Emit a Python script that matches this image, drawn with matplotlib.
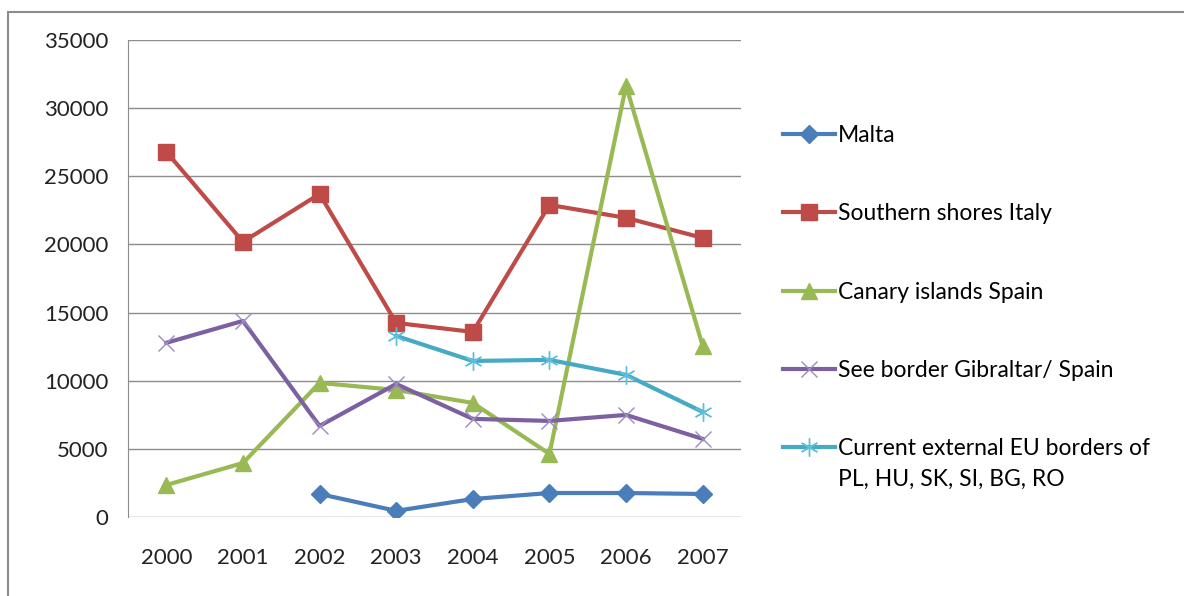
import numpy as np
import matplotlib
matplotlib.use("Agg")
import matplotlib.pyplot as plt
from matplotlib.patches import Rectangle

years = ["2000", "2001", "2002", "2003", "2004", "2005", "2006", "2007"]
malta = [np.nan, np.nan, 1690, 450, 1320, 1760, 1760, 1690]
italy = [26800, 20190, 23700, 14240, 13580, 22900, 21950, 20480]
canary = [2350, 3960, 9840, 9320, 8370, 4630, 31650, 12550]
gibraltar = [12780, 14390, 6680, 9760, 7200, 7050, 7490, 5730]
eu_borders = [np.nan, np.nan, np.nan, 13290, 11450, 11530, 10430, 7710]

labels = ["Malta", "Southern shores Italy", "Canary islands Spain",
          "See border Gibraltar/ Spain", "Current external EU borders of"]
label_cont = "PL, HU, SK, SI, BG, RO"

plt.rcParams['font.family'] = ['Lato', 'DejaVu Sans']

fig = plt.figure(figsize=(11.84, 5.96), dpi=100)
# chart frame (cut off at right and bottom)
fig.patches.append(Rectangle((8 / 1184, -0.1), 1.2, 1 - 12 / 596 + 0.1,
                             transform=fig.transFigure, fill=False,
                             edgecolor='#8c8c8c', linewidth=1.5))

ax = fig.add_axes([128 / 1184, 1 - 517 / 596, 613 / 1184, 477 / 596])
x = np.arange(len(years))

ax.plot(x, malta, color='#4A7EBB', lw=3, marker='D', ms=9, label=labels[0])
ax.plot(x, italy, color='#BE4B48', lw=3, marker='s', ms=12, label=labels[1])
ax.plot(x, canary, color='#98B954', lw=3, marker='^', ms=12, label=labels[2])
ax.plot(x, gibraltar, color='#7D60A0', lw=3, marker='x', ms=12, mew=1,
        mec='#9c8bc0', label=labels[3])
ax.plot(x, eu_borders, color='#46AAC5', lw=3, marker=(6, 2, 0), ms=13,
        mew=1, mec='#5cc0dc', label=labels[4])

ax.set_xlim(-0.5, 7.5)
ax.set_ylim(0, 35000)
ax.set_yticks(np.arange(0, 35001, 5000))
ax.set_xticks(x)
ax.set_xticklabels(years)
ax.tick_params(length=0, labelsize=16, colors='#222222')
ax.tick_params(axis='x', pad=22)
ax.tick_params(axis='y', pad=14)
ax.grid(axis='y', color='#8c8c8c', lw=1)
ax.set_axisbelow(True)
for s in ['top', 'right', 'bottom']:
    ax.spines[s].set_visible(False)
ax.spines['left'].set_color('#8c8c8c')

fig.legend(loc='upper left', bbox_to_anchor=(783 / 1184, 1 - 125 / 596),
           frameon=False, fontsize=16.5, labelspacing=2.5, handlelength=2.27,
           handletextpad=0.13, borderpad=0, borderaxespad=0)
# second line of the last legend entry
fig.text(838 / 1184, 1 - 479 / 596, label_cont, fontsize=16.5, va='center',
         ha='left')

fig.savefig("out.png", dpi=100)
